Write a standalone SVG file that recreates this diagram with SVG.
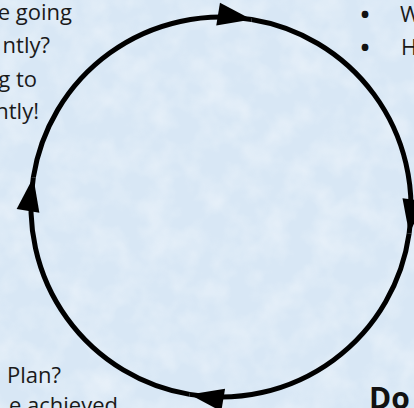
<svg xmlns="http://www.w3.org/2000/svg" width="414" height="408" viewBox="0 0 414 408">
  <defs>
    <filter id="tex" x="0" y="0" width="100%" height="100%">
      <feTurbulence type="fractalNoise" baseFrequency="0.035" numOctaves="3" seed="7"/>
      <feColorMatrix type="matrix" values="0 0 0 0 1  0 0 0 0 1  0 0 0 0 1  1.2 0 0 0 -0.45"/>
    </filter>
    <marker id="ah" viewBox="-35 -12 36 24" markerWidth="36" markerHeight="24" refX="0" refY="0" orient="auto" markerUnits="userSpaceOnUse">
      <path d="M0,0 L-34,-11.5 L-34,11.5 Z" fill="#000"/>
    </marker>
    <style>
      .t { font-family: "Open Sans", "Liberation Sans", sans-serif; font-size: 22px; fill: #1a1a1a; }
      .bl { font-family: "Open Sans", "Liberation Sans", sans-serif; font-size: 24px; font-weight: bold; fill: #111; }
      .b { font-family: "Open Sans", "Liberation Sans", sans-serif; font-size: 30px; font-weight: bold; fill: #111; }
      .arc { fill: none; stroke: #000; stroke-width: 5; marker-end: url(#ah); }
    </style>
  </defs>
  <rect width="414" height="408" fill="#d8e7f5"/>
  <rect width="414" height="408" filter="url(#tex)" opacity="0.6"/>

  <g id="connectors">
    <path class="arc" d="M33.34,177.28 A190,190 0 0 1 251.67,19.52"/>
    <path class="arc" d="M251.67,19.52 A190,190 0 0 1 409.15,233.44"/>
    <path class="arc" d="M409.15,233.44 A190,190 0 0 1 189.64,394.39"/>
    <path class="arc" d="M189.64,394.39 A190,190 0 0 1 33.34,177.28"/>
  </g>

  <g id="node-top-left">
    <text class="t" x="72" y="20" text-anchor="end">e going</text>
    <text class="t" x="50" y="53" text-anchor="end">ntly?</text>
    <text class="t" x="37" y="87" text-anchor="end">g to</text>
    <text class="t" x="39" y="119" text-anchor="end">ntly!</text>
  </g>

  <g id="node-top-right">
    <text class="bl" x="365" y="23" text-anchor="middle">•</text>
    <text class="t" x="400" y="22">W</text>
    <text class="bl" x="365" y="56" text-anchor="middle">•</text>
    <text class="t" x="401" y="55">H</text>
  </g>

  <g id="node-bottom-left">
    <text class="t" x="7" y="383">Plan?</text>
    <text class="t" x="118" y="413" text-anchor="end">e achieved</text>
  </g>

  <g id="node-bottom-right">
    <text class="b" x="369" y="409">Do</text>
  </g>
</svg>
